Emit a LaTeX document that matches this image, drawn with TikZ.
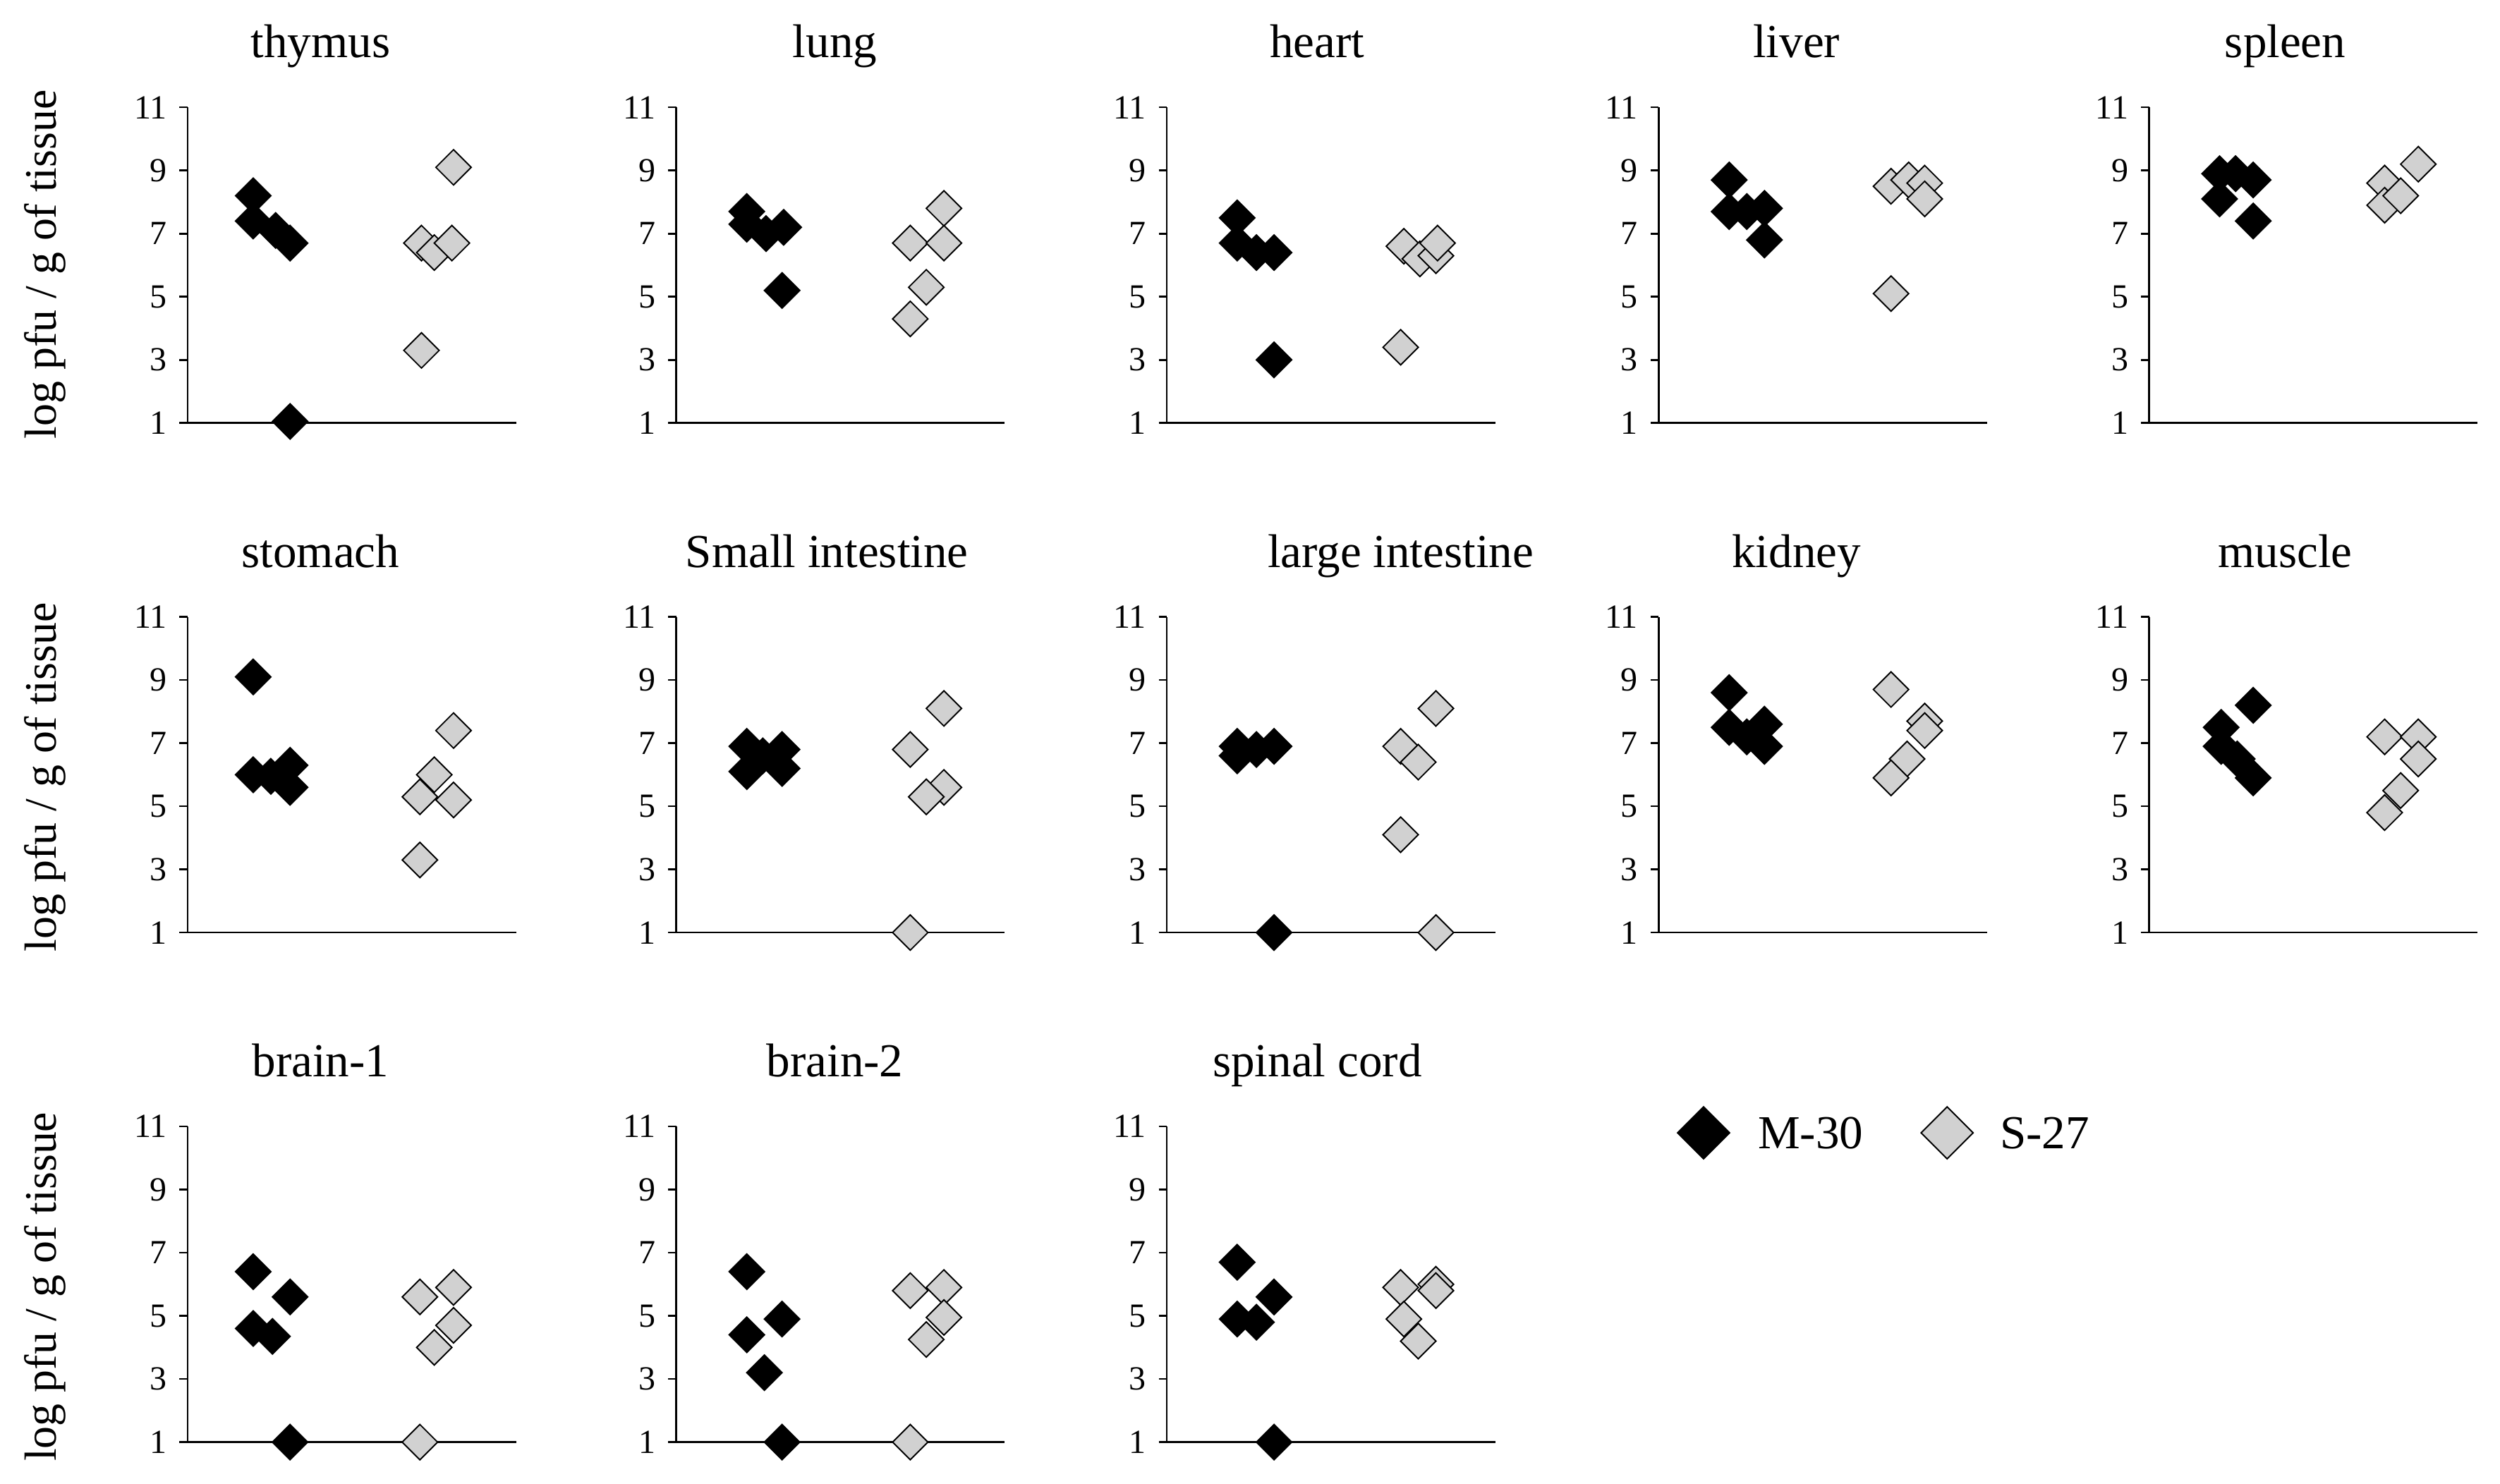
\documentclass[tikz,border=0pt]{standalone}
\usepackage{fontspec}
\setmainfont{Liberation Serif}
\usetikzlibrary{shapes.geometric}
\tikzset{
 mk/.style={diamond,draw=black,line width=0.6pt,inner sep=0pt,minimum width=0.56cm,minimum height=0.56cm},
 bd/.style={mk,fill=black},
 gd/.style={mk,fill=black!18},
 ttl/.style={font=\rmfamily\fontsize{21}{24}\selectfont},
 tick/.style={font=\rmfamily\fontsize{15}{18}\selectfont,anchor=east},
 ylab/.style={font=\rmfamily\fontsize{20}{24}\selectfont,rotate=90},
 ax/.style={line width=0.8pt}
}
\newcommand{\panel}[6]{% axisx, base, title, titlex, black, gray
 \draw[ax] (#1,{#2-197}) -- (#1,#2) -- ({#1+205},#2);
 \foreach \t in {1,3,...,11}{
   \draw[ax] ({#1-5},{#2-(\t-1)*19.7}) -- (#1,{#2-(\t-1)*19.7});
   \node[tick] at ({#1-8},{#2-(\t-1)*19.7}) {\t};}
 \node[ttl,anchor=base] at ({#1+#4},{#2-228}) {#3};
 \foreach \dx/\v in {#5} \node[bd] at ({#1+\dx},{#2-(\v-1)*19.7}) {};
 \foreach \dx/\v in {#6} \node[gd] at ({#1+\dx},{#2-(\v-1)*19.7}) {};
}
\begin{document}
\begin{tikzpicture}[x=0.025cm,y=-0.025cm]
\useasboundingbox (0,0) rectangle (1560,926);
\foreach \yy in {165,485,803} \node[ylab] at (28,\yy) {log pfu / g of tissue};
% row 1
\panel{117}{264}{thymus}{83}{41/8.2,41/7.4,55/7.1,64/6.7,64/1.05}{166/9.1,146/6.7,154/6.4,165/6.7,146/3.3}
\panel{422}{264}{lung}{99}{44/7.7,44/7.3,56/7.0,67/7.2,66/5.2}{167/7.8,146/6.7,167/6.7,156/5.3,146/4.3}
\panel{728}{264}{heart}{94}{44/7.5,44/6.7,56/6.4,67/6.4,67/3.0}{148/6.6,158/6.2,168/6.3,169/6.7,146/3.4}
\panel{1035}{264}{liver}{86}{44/8.7,44/7.7,55/7.7,66/7.8,66/6.8}{145/8.5,156/8.7,166/8.6,166/8.1,145/5.1}
\panel{1341}{264}{spleen}{85}{44/8.9,54/8.9,65/8.7,44/8.1,65/7.4}{147/8.6,168/9.2,147/7.9,157/8.2}
% row 2
\panel{117}{582}{stomach}{83}{41/9.1,41/6.0,52/5.95,64/6.3,64/5.6}{166/7.4,154/6.0,145/5.3,166/5.2,145/3.3}
\panel{422}{582}{Small intestine}{94}{44/6.9,44/6.1,54/6.6,66/6.8,66/6.2}{167/8.1,146/6.8,167/5.6,156/5.3,146/1.0}
\panel{728}{582}{large intestine}{146}{44/6.9,44/6.6,56/6.8,67/6.9,67/1.0}{168/8.1,146/6.9,157/6.4,146/4.1,168/1.0}
\panel{1035}{582}{kidney}{86}{44/8.6,44/7.5,55/7.2,66/7.6,66/6.9}{145/8.7,166/7.7,166/7.4,155/6.5,145/5.9}
\panel{1341}{582}{muscle}{85}{45/7.5,45/6.9,65/8.2,55/6.5,65/5.9}{147/7.2,168/7.2,168/6.5,157/5.5,147/4.8}
% row 3
\panel{117}{900}{brain-1}{83}{41/6.4,41/4.6,53/4.35,64/5.6,64/1.0}{145/5.6,166/5.9,166/4.7,154/4.0,145/1.0}
\panel{422}{900}{brain-2}{99}{44/6.4,44/4.4,66/4.9,55/3.2,66/1.0}{146/5.8,167/5.9,167/4.95,156/4.25,146/1.0}
\panel{728}{900}{spinal cord}{94}{44/6.7,44/4.9,56/4.8,67/5.6,67/1.0}{146/5.9,168/6.0,148/4.9,157/4.2,168/5.8}
% legend
\node[bd,minimum width=0.82cm,minimum height=0.82cm] (lm) at (1063,707) {};
\node[ttl,anchor=west] (lmt) at (1092,707) {M-30};
\node[gd,minimum width=0.82cm,minimum height=0.82cm] (ls) at (1215,707) {};
\node[ttl,anchor=west] (lst) at (1243,707) {S-27};
\end{tikzpicture}
\end{document}
